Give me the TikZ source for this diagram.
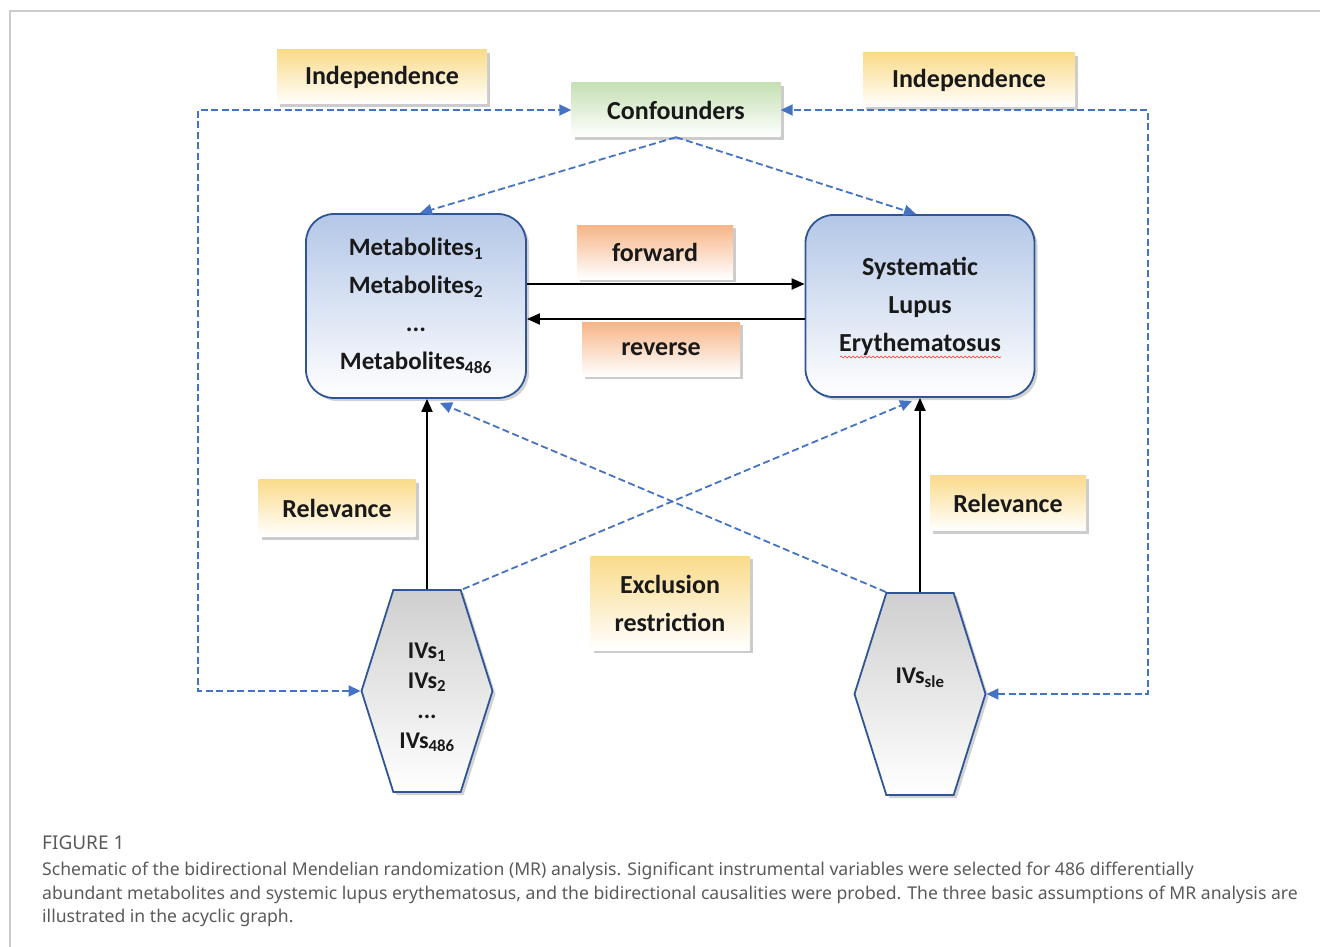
\documentclass[tikz,border=0pt]{standalone}
\usepackage{fontspec}
\setmainfont{Carlito}
\newfontfamily\capfont{Noto Sans}
\usetikzlibrary{shapes.symbols,shadows,arrows.meta,decorations.pathmorphing}
\definecolor{dashblue}{HTML}{4472C4}
\definecolor{boxline}{HTML}{2F5597}
\definecolor{bluetop}{HTML}{B4C7E7}
\definecolor{yellowtop}{HTML}{FADB8A}
\definecolor{greentop}{HTML}{C5E0B4}
\definecolor{orangetop}{HTML}{F7B587}
\definecolor{graytop}{HTML}{CFCFCF}
\definecolor{capgray}{HTML}{5A5A5A}
\newcommand{\sub}[1]{\textsubscript{#1}}

\begin{document}
\begin{tikzpicture}[x=1pt,y=-1pt,
	every node/.style={font=\bfseries\fontsize{26}{38}\selectfont, align=center, text=black!90},
	tag/.style={rectangle, minimum height=54pt, inner sep=0pt,
		drop shadow={shadow xshift=3pt, shadow yshift=-3pt, fill=black!40}},
	yellowtag/.style={tag, top color=yellowtop, bottom color=white},
	greentag/.style={tag, top color=greentop, bottom color=white},
	orangetag/.style={tag, top color=orangetop, bottom color=white},
	mainbox/.style={rectangle, rounded corners=28pt, draw=boxline, line width=1.8pt,
		top color=bluetop, bottom color=white,
		drop shadow={shadow xshift=3pt, shadow yshift=-3pt, fill=black!35}},
	ivbox/.style={signal, signal to=east and west, signal pointer angle=145,
		draw=boxline, line width=1.8pt, top color=graytop, bottom color=white,
		minimum width=131pt, minimum height=202pt, inner sep=0pt,
		font=\bfseries\fontsize{24}{30}\selectfont,
		drop shadow={shadow xshift=3pt, shadow yshift=-3pt, fill=black!35}},
	depend/.style={dashblue, line width=1.8pt, dash pattern=on 7pt off 3.5pt},
	tip/.style={-{Triangle[length=12pt,width=11pt]}},
	cause/.style={black, line width=2pt, -{Triangle[length=13pt,width=11pt]}}
]
\useasboundingbox (0,0) rectangle (1320,947);
\draw[black!20, line width=1.2pt] (10,947) -- (10,11) -- (1320,11);

% assumption tags
\node[yellowtag, minimum width=210pt] (indL) at (382,77) {Independence};
\node[greentag, minimum width=209pt] (conf) at (676,110) {Confounders};
\node[yellowtag, minimum width=212pt] (indR) at (969,80) {Independence};
\node[orangetag, minimum width=156pt] (fwd) at (655,252) {forward};
\node[orangetag, minimum width=158pt] (rev) at (661,349) {reverse};
\node[yellowtag, minimum width=157pt, minimum height=57pt] (relL) at (337,508) {Relevance};
\node[yellowtag, minimum width=156pt, minimum height=55pt] (relR) at (1008,503) {Relevance};
\node[yellowtag, minimum width=159pt, minimum height=94pt] (excl) at (670,603) {Exclusion\\restriction};

% exposures and outcomes
\node[mainbox, minimum width=220pt, minimum height=184pt, font=\bfseries\fontsize{25}{38}\selectfont] (metab) at (416,306)
	{Metabolites\sub{1}\\Metabolites\sub{2}\\...\\Metabolites\sub{486}};
\node[mainbox, minimum width=229pt, minimum height=182pt] (sle) at (920,306)
	{Systematic\\Lupus\\Erythematosus};
\draw[red!80, line width=0.6pt, decorate, decoration={snake, amplitude=0.9pt, segment length=4pt}]
	(840,357) -- (1001,357);

% instruments
\node[ivbox] (hexL) at (427,691) {\raisebox{0pt}[\dimexpr\height+12pt\relax]{\begin{tabular}{@{}c@{}}IVs\sub{1}\\IVs\sub{2}\\...\\IVs\sub{486}\end{tabular}}};
\node[ivbox] (hexR) at (920,694) {\raisebox{36pt}{IVs\sub{sle}}};

\draw[cause] ([yshift=22pt]metab.east) -- ([yshift=22pt]metab.east -| sle.west);
\draw[cause] ([yshift=-13pt]metab.east -| sle.west) -- ([yshift=-13pt]metab.east);
\draw[cause] (hexL.north) -- (hexL.north |- metab.south);
\draw[cause] (hexR.north) -- (hexR.north |- sle.south);

\draw[depend, tip] (conf.south) -- ([xshift=4pt]metab.north);
\draw[depend, tip] (conf.south) -- ([xshift=-4pt]sle.north);
\draw[depend, tip] ([xshift=36pt]hexL.north) -- ([xshift=-8pt, yshift=-3pt]sle.south);
\draw[depend, tip] ([xshift=-34pt]hexR.north) -- ([xshift=24pt, yshift=-4pt]metab.south);

\coordinate (loopL) at (198,0);
\coordinate (loopR) at (1148,0);
\draw[depend, {Triangle[length=12pt,width=11pt]}-{Triangle[length=12pt,width=11pt]}]
	(hexL.west) -| (loopL |- conf.west) -- (conf.west);
\draw[depend, {Triangle[length=12pt,width=11pt]}-{Triangle[length=12pt,width=11pt]}]
	(hexR.east) -| (loopR |- conf.east) -- (conf.east);

% caption
\node[anchor=north west, inner sep=0pt, font=\capfont\fontsize{19}{24}\selectfont, text=capgray] (figno) at (42,836) {FIGURE 1};
\node[anchor=north west, inner sep=0pt, align=left, font=\capfont\fontsize{17.6}{23.5}\selectfont, text=capgray] (caption) at (42,862)
	{Schematic of the bidirectional Mendelian randomization (MR) analysis. Significant instrumental variables were selected for 486 differentially\\
	abundant metabolites and systemic lupus erythematosus, and the bidirectional causalities were probed. The three basic assumptions of MR analysis are\\
	illustrated in the acyclic graph.};
\end{tikzpicture}
\end{document}
